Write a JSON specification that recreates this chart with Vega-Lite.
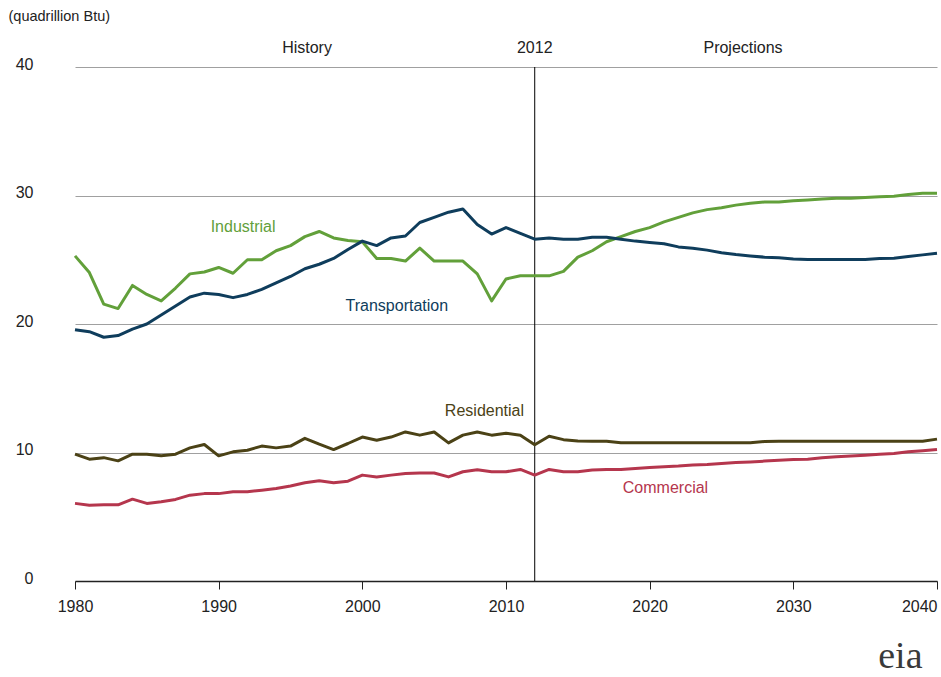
{
  "$schema": "https://vega.github.io/schema/vega-lite/v6.json",
  "width": 862,
  "height": 514,
  "autosize": "none",
  "padding": {"left": 75, "top": 67, "right": 4, "bottom": 96},
  "background": "white",
  "config": {
    "view": {"stroke": null},
    "font": "Liberation Sans",
    "text": {"font": "Liberation Sans"}
  },
  "datasets": {
    "series": [
      {"sector": "Industrial", "year": 1980, "value": 25.3},
      {"sector": "Industrial", "year": 1981, "value": 24.0},
      {"sector": "Industrial", "year": 1982, "value": 21.55},
      {"sector": "Industrial", "year": 1983, "value": 21.2},
      {"sector": "Industrial", "year": 1984, "value": 23.0},
      {"sector": "Industrial", "year": 1985, "value": 22.3},
      {"sector": "Industrial", "year": 1986, "value": 21.8},
      {"sector": "Industrial", "year": 1987, "value": 22.8},
      {"sector": "Industrial", "year": 1988, "value": 23.9},
      {"sector": "Industrial", "year": 1989, "value": 24.05},
      {"sector": "Industrial", "year": 1990, "value": 24.4},
      {"sector": "Industrial", "year": 1991, "value": 23.95},
      {"sector": "Industrial", "year": 1992, "value": 25.0},
      {"sector": "Industrial", "year": 1993, "value": 25.0},
      {"sector": "Industrial", "year": 1994, "value": 25.7},
      {"sector": "Industrial", "year": 1995, "value": 26.1},
      {"sector": "Industrial", "year": 1996, "value": 26.8},
      {"sector": "Industrial", "year": 1997, "value": 27.2},
      {"sector": "Industrial", "year": 1998, "value": 26.7},
      {"sector": "Industrial", "year": 1999, "value": 26.5},
      {"sector": "Industrial", "year": 2000, "value": 26.4},
      {"sector": "Industrial", "year": 2001, "value": 25.1},
      {"sector": "Industrial", "year": 2002, "value": 25.1},
      {"sector": "Industrial", "year": 2003, "value": 24.9},
      {"sector": "Industrial", "year": 2004, "value": 25.9},
      {"sector": "Industrial", "year": 2005, "value": 24.9},
      {"sector": "Industrial", "year": 2006, "value": 24.9},
      {"sector": "Industrial", "year": 2007, "value": 24.9},
      {"sector": "Industrial", "year": 2008, "value": 23.9},
      {"sector": "Industrial", "year": 2009, "value": 21.8},
      {"sector": "Industrial", "year": 2010, "value": 23.5},
      {"sector": "Industrial", "year": 2011, "value": 23.75},
      {"sector": "Industrial", "year": 2012, "value": 23.75},
      {"sector": "Industrial", "year": 2013, "value": 23.75},
      {"sector": "Industrial", "year": 2014, "value": 24.1},
      {"sector": "Industrial", "year": 2015, "value": 25.2},
      {"sector": "Industrial", "year": 2016, "value": 25.7},
      {"sector": "Industrial", "year": 2017, "value": 26.4},
      {"sector": "Industrial", "year": 2018, "value": 26.8},
      {"sector": "Industrial", "year": 2019, "value": 27.2},
      {"sector": "Industrial", "year": 2020, "value": 27.5},
      {"sector": "Industrial", "year": 2021, "value": 27.95},
      {"sector": "Industrial", "year": 2022, "value": 28.3},
      {"sector": "Industrial", "year": 2023, "value": 28.65},
      {"sector": "Industrial", "year": 2024, "value": 28.9},
      {"sector": "Industrial", "year": 2025, "value": 29.05},
      {"sector": "Industrial", "year": 2026, "value": 29.25},
      {"sector": "Industrial", "year": 2027, "value": 29.4},
      {"sector": "Industrial", "year": 2028, "value": 29.5},
      {"sector": "Industrial", "year": 2029, "value": 29.5},
      {"sector": "Industrial", "year": 2030, "value": 29.6},
      {"sector": "Industrial", "year": 2031, "value": 29.65},
      {"sector": "Industrial", "year": 2032, "value": 29.72},
      {"sector": "Industrial", "year": 2033, "value": 29.78},
      {"sector": "Industrial", "year": 2034, "value": 29.78},
      {"sector": "Industrial", "year": 2035, "value": 29.85},
      {"sector": "Industrial", "year": 2036, "value": 29.9},
      {"sector": "Industrial", "year": 2037, "value": 29.95},
      {"sector": "Industrial", "year": 2038, "value": 30.08},
      {"sector": "Industrial", "year": 2039, "value": 30.18},
      {"sector": "Industrial", "year": 2040, "value": 30.18},
      {"sector": "Transportation", "year": 1980, "value": 19.56},
      {"sector": "Transportation", "year": 1981, "value": 19.4},
      {"sector": "Transportation", "year": 1982, "value": 18.97},
      {"sector": "Transportation", "year": 1983, "value": 19.1},
      {"sector": "Transportation", "year": 1984, "value": 19.6},
      {"sector": "Transportation", "year": 1985, "value": 20.0},
      {"sector": "Transportation", "year": 1986, "value": 20.7},
      {"sector": "Transportation", "year": 1987, "value": 21.4},
      {"sector": "Transportation", "year": 1988, "value": 22.1},
      {"sector": "Transportation", "year": 1989, "value": 22.4},
      {"sector": "Transportation", "year": 1990, "value": 22.3},
      {"sector": "Transportation", "year": 1991, "value": 22.05},
      {"sector": "Transportation", "year": 1992, "value": 22.3},
      {"sector": "Transportation", "year": 1993, "value": 22.7},
      {"sector": "Transportation", "year": 1994, "value": 23.2},
      {"sector": "Transportation", "year": 1995, "value": 23.7},
      {"sector": "Transportation", "year": 1996, "value": 24.3},
      {"sector": "Transportation", "year": 1997, "value": 24.65},
      {"sector": "Transportation", "year": 1998, "value": 25.1},
      {"sector": "Transportation", "year": 1999, "value": 25.8},
      {"sector": "Transportation", "year": 2000, "value": 26.45},
      {"sector": "Transportation", "year": 2001, "value": 26.1},
      {"sector": "Transportation", "year": 2002, "value": 26.7},
      {"sector": "Transportation", "year": 2003, "value": 26.85},
      {"sector": "Transportation", "year": 2004, "value": 27.9},
      {"sector": "Transportation", "year": 2005, "value": 28.3},
      {"sector": "Transportation", "year": 2006, "value": 28.7},
      {"sector": "Transportation", "year": 2007, "value": 28.95},
      {"sector": "Transportation", "year": 2008, "value": 27.75},
      {"sector": "Transportation", "year": 2009, "value": 27.0},
      {"sector": "Transportation", "year": 2010, "value": 27.5},
      {"sector": "Transportation", "year": 2011, "value": 27.05},
      {"sector": "Transportation", "year": 2012, "value": 26.6},
      {"sector": "Transportation", "year": 2013, "value": 26.7},
      {"sector": "Transportation", "year": 2014, "value": 26.6},
      {"sector": "Transportation", "year": 2015, "value": 26.6},
      {"sector": "Transportation", "year": 2016, "value": 26.75},
      {"sector": "Transportation", "year": 2017, "value": 26.75},
      {"sector": "Transportation", "year": 2018, "value": 26.6},
      {"sector": "Transportation", "year": 2019, "value": 26.45},
      {"sector": "Transportation", "year": 2020, "value": 26.35},
      {"sector": "Transportation", "year": 2021, "value": 26.25},
      {"sector": "Transportation", "year": 2022, "value": 26.0},
      {"sector": "Transportation", "year": 2023, "value": 25.9},
      {"sector": "Transportation", "year": 2024, "value": 25.75},
      {"sector": "Transportation", "year": 2025, "value": 25.55},
      {"sector": "Transportation", "year": 2026, "value": 25.4},
      {"sector": "Transportation", "year": 2027, "value": 25.3},
      {"sector": "Transportation", "year": 2028, "value": 25.2},
      {"sector": "Transportation", "year": 2029, "value": 25.15},
      {"sector": "Transportation", "year": 2030, "value": 25.05},
      {"sector": "Transportation", "year": 2031, "value": 25.02},
      {"sector": "Transportation", "year": 2032, "value": 25.02},
      {"sector": "Transportation", "year": 2033, "value": 25.02},
      {"sector": "Transportation", "year": 2034, "value": 25.02},
      {"sector": "Transportation", "year": 2035, "value": 25.02},
      {"sector": "Transportation", "year": 2036, "value": 25.1},
      {"sector": "Transportation", "year": 2037, "value": 25.12},
      {"sector": "Transportation", "year": 2038, "value": 25.25},
      {"sector": "Transportation", "year": 2039, "value": 25.38},
      {"sector": "Transportation", "year": 2040, "value": 25.5},
      {"sector": "Residential", "year": 1980, "value": 9.87},
      {"sector": "Residential", "year": 1981, "value": 9.48},
      {"sector": "Residential", "year": 1982, "value": 9.6},
      {"sector": "Residential", "year": 1983, "value": 9.35},
      {"sector": "Residential", "year": 1984, "value": 9.87},
      {"sector": "Residential", "year": 1985, "value": 9.87},
      {"sector": "Residential", "year": 1986, "value": 9.74},
      {"sector": "Residential", "year": 1987, "value": 9.87},
      {"sector": "Residential", "year": 1988, "value": 10.36},
      {"sector": "Residential", "year": 1989, "value": 10.62},
      {"sector": "Residential", "year": 1990, "value": 9.74},
      {"sector": "Residential", "year": 1991, "value": 10.05},
      {"sector": "Residential", "year": 1992, "value": 10.18},
      {"sector": "Residential", "year": 1993, "value": 10.5},
      {"sector": "Residential", "year": 1994, "value": 10.36},
      {"sector": "Residential", "year": 1995, "value": 10.5},
      {"sector": "Residential", "year": 1996, "value": 11.1},
      {"sector": "Residential", "year": 1997, "value": 10.65},
      {"sector": "Residential", "year": 1998, "value": 10.23},
      {"sector": "Residential", "year": 1999, "value": 10.7},
      {"sector": "Residential", "year": 2000, "value": 11.2},
      {"sector": "Residential", "year": 2001, "value": 10.96},
      {"sector": "Residential", "year": 2002, "value": 11.2},
      {"sector": "Residential", "year": 2003, "value": 11.6},
      {"sector": "Residential", "year": 2004, "value": 11.35},
      {"sector": "Residential", "year": 2005, "value": 11.6},
      {"sector": "Residential", "year": 2006, "value": 10.75},
      {"sector": "Residential", "year": 2007, "value": 11.35},
      {"sector": "Residential", "year": 2008, "value": 11.6},
      {"sector": "Residential", "year": 2009, "value": 11.35},
      {"sector": "Residential", "year": 2010, "value": 11.5},
      {"sector": "Residential", "year": 2011, "value": 11.35},
      {"sector": "Residential", "year": 2012, "value": 10.6},
      {"sector": "Residential", "year": 2013, "value": 11.27},
      {"sector": "Residential", "year": 2014, "value": 11.0},
      {"sector": "Residential", "year": 2015, "value": 10.9},
      {"sector": "Residential", "year": 2016, "value": 10.88},
      {"sector": "Residential", "year": 2017, "value": 10.88},
      {"sector": "Residential", "year": 2018, "value": 10.75},
      {"sector": "Residential", "year": 2019, "value": 10.75},
      {"sector": "Residential", "year": 2020, "value": 10.75},
      {"sector": "Residential", "year": 2021, "value": 10.75},
      {"sector": "Residential", "year": 2022, "value": 10.75},
      {"sector": "Residential", "year": 2023, "value": 10.75},
      {"sector": "Residential", "year": 2024, "value": 10.75},
      {"sector": "Residential", "year": 2025, "value": 10.75},
      {"sector": "Residential", "year": 2026, "value": 10.75},
      {"sector": "Residential", "year": 2027, "value": 10.75},
      {"sector": "Residential", "year": 2028, "value": 10.86},
      {"sector": "Residential", "year": 2029, "value": 10.88},
      {"sector": "Residential", "year": 2030, "value": 10.88},
      {"sector": "Residential", "year": 2031, "value": 10.88},
      {"sector": "Residential", "year": 2032, "value": 10.88},
      {"sector": "Residential", "year": 2033, "value": 10.88},
      {"sector": "Residential", "year": 2034, "value": 10.88},
      {"sector": "Residential", "year": 2035, "value": 10.88},
      {"sector": "Residential", "year": 2036, "value": 10.88},
      {"sector": "Residential", "year": 2037, "value": 10.88},
      {"sector": "Residential", "year": 2038, "value": 10.88},
      {"sector": "Residential", "year": 2039, "value": 10.88},
      {"sector": "Residential", "year": 2040, "value": 11.04},
      {"sector": "Commercial", "year": 1980, "value": 6.04},
      {"sector": "Commercial", "year": 1981, "value": 5.9},
      {"sector": "Commercial", "year": 1982, "value": 5.93},
      {"sector": "Commercial", "year": 1983, "value": 5.93},
      {"sector": "Commercial", "year": 1984, "value": 6.37},
      {"sector": "Commercial", "year": 1985, "value": 6.04},
      {"sector": "Commercial", "year": 1986, "value": 6.17},
      {"sector": "Commercial", "year": 1987, "value": 6.35},
      {"sector": "Commercial", "year": 1988, "value": 6.68},
      {"sector": "Commercial", "year": 1989, "value": 6.8},
      {"sector": "Commercial", "year": 1990, "value": 6.8},
      {"sector": "Commercial", "year": 1991, "value": 6.94},
      {"sector": "Commercial", "year": 1992, "value": 6.94},
      {"sector": "Commercial", "year": 1993, "value": 7.07},
      {"sector": "Commercial", "year": 1994, "value": 7.2},
      {"sector": "Commercial", "year": 1995, "value": 7.4},
      {"sector": "Commercial", "year": 1996, "value": 7.64},
      {"sector": "Commercial", "year": 1997, "value": 7.8},
      {"sector": "Commercial", "year": 1998, "value": 7.64},
      {"sector": "Commercial", "year": 1999, "value": 7.77},
      {"sector": "Commercial", "year": 2000, "value": 8.24},
      {"sector": "Commercial", "year": 2001, "value": 8.1},
      {"sector": "Commercial", "year": 2002, "value": 8.24},
      {"sector": "Commercial", "year": 2003, "value": 8.37},
      {"sector": "Commercial", "year": 2004, "value": 8.4},
      {"sector": "Commercial", "year": 2005, "value": 8.4},
      {"sector": "Commercial", "year": 2006, "value": 8.1},
      {"sector": "Commercial", "year": 2007, "value": 8.5},
      {"sector": "Commercial", "year": 2008, "value": 8.65},
      {"sector": "Commercial", "year": 2009, "value": 8.5},
      {"sector": "Commercial", "year": 2010, "value": 8.5},
      {"sector": "Commercial", "year": 2011, "value": 8.68},
      {"sector": "Commercial", "year": 2012, "value": 8.24},
      {"sector": "Commercial", "year": 2013, "value": 8.68},
      {"sector": "Commercial", "year": 2014, "value": 8.5},
      {"sector": "Commercial", "year": 2015, "value": 8.5},
      {"sector": "Commercial", "year": 2016, "value": 8.63},
      {"sector": "Commercial", "year": 2017, "value": 8.68},
      {"sector": "Commercial", "year": 2018, "value": 8.68},
      {"sector": "Commercial", "year": 2019, "value": 8.76},
      {"sector": "Commercial", "year": 2020, "value": 8.83},
      {"sector": "Commercial", "year": 2021, "value": 8.89},
      {"sector": "Commercial", "year": 2022, "value": 8.94},
      {"sector": "Commercial", "year": 2023, "value": 9.02},
      {"sector": "Commercial", "year": 2024, "value": 9.07},
      {"sector": "Commercial", "year": 2025, "value": 9.15},
      {"sector": "Commercial", "year": 2026, "value": 9.22},
      {"sector": "Commercial", "year": 2027, "value": 9.27},
      {"sector": "Commercial", "year": 2028, "value": 9.33},
      {"sector": "Commercial", "year": 2029, "value": 9.4},
      {"sector": "Commercial", "year": 2030, "value": 9.46},
      {"sector": "Commercial", "year": 2031, "value": 9.48},
      {"sector": "Commercial", "year": 2032, "value": 9.59},
      {"sector": "Commercial", "year": 2033, "value": 9.66},
      {"sector": "Commercial", "year": 2034, "value": 9.72},
      {"sector": "Commercial", "year": 2035, "value": 9.79},
      {"sector": "Commercial", "year": 2036, "value": 9.87},
      {"sector": "Commercial", "year": 2037, "value": 9.92},
      {"sector": "Commercial", "year": 2038, "value": 10.05},
      {"sector": "Commercial", "year": 2039, "value": 10.13},
      {"sector": "Commercial", "year": 2040, "value": 10.23}
    ],
    "seriesLabels": [
      {"sector": "Industrial", "year": 1991.7, "value": 27.55},
      {"sector": "Transportation", "year": 2002.4, "value": 21.4},
      {"sector": "Residential", "year": 2008.5, "value": 13.25},
      {"sector": "Commercial", "year": 2021.1, "value": 7.25}
    ],
    "headers": [
      {"label": "History", "year": 1996.15, "value": 41.5},
      {"label": "2012", "year": 2012, "value": 41.5},
      {"label": "Projections", "year": 2026.5, "value": 41.5}
    ],
    "divider": [
      {"year": 2012}
    ],
    "logo": [
      {"label": "eia", "year": 2037.45, "value": -5.95}
    ]
  },
  "layer": [
    {
      "data": {"name": "divider"},
      "mark": {"type": "rule", "color": "#000000", "strokeWidth": 1},
      "encoding": {
        "x": {"field": "year", "type": "quantitative", "scale": {"domain": [1980, 2040], "nice": false, "zero": false}}
      }
    },
    {
      "data": {"name": "series"},
      "mark": {"type": "line", "strokeWidth": 3, "strokeJoin": "round", "strokeCap": "butt", "clip": false},
      "encoding": {
        "x": {
          "field": "year", "type": "quantitative",
          "scale": {"domain": [1980, 2040], "nice": false, "zero": false},
          "axis": {
            "title": null,
            "values": [1980, 1990, 2000, 2010, 2020, 2030, 2040],
            "format": "d",
            "grid": false,
            "domainColor": "#222222",
            "domainWidth": 1.5,
            "tickColor": "#222222",
            "tickSize": 8,
            "labelFontSize": 16,
            "labelColor": "#222222",
            "labelPadding": 9,
            "labelFlush": false,
            "labelAlign": {"condition": {"test": "datum.value == 2040", "value": "right"}, "value": "center"}
          }
        },
        "y": {
          "field": "value", "type": "quantitative",
          "scale": {"domain": [0, 40], "nice": false},
          "axis": {
            "title": "(quadrillion  Btu)",
            "titleAngle": 0,
            "titleAlign": "left",
            "titleBaseline": "middle",
            "titleX": -67,
            "titleY": -51,
            "titleFontSize": 14.5,
            "titleFontWeight": "normal",
            "titleColor": "#222222",
            "values": [0, 10, 20, 30, 40],
            "grid": true,
            "gridColor": "#a0a0a0",
            "gridWidth": 1,
            "domain": false,
            "ticks": false,
            "tickSize": 0,
            "labelFontSize": 16,
            "labelColor": "#222222",
            "labelPadding": 42,
            "labelAlign": "right",
            "labelBaseline": "bottom",
            "labelOffset": 5
          }
        },
        "color": {
          "field": "sector", "type": "nominal",
          "scale": {"domain": ["Industrial", "Transportation", "Residential", "Commercial"], "range": ["#62a03a", "#0f3d5c", "#4b4216", "#b5364d"]},
          "legend": null
        },
        "detail": {"field": "sector"}
      }
    },
    {
      "data": {"name": "seriesLabels"},
      "mark": {"type": "text", "fontSize": 16, "align": "center", "baseline": "middle"},
      "encoding": {
        "x": {"field": "year", "type": "quantitative"},
        "y": {"field": "value", "type": "quantitative"},
        "text": {"field": "sector"},
        "color": {"field": "sector", "type": "nominal", "scale": {"domain": ["Industrial", "Transportation", "Residential", "Commercial"], "range": ["#62a03a", "#0f3d5c", "#4b4216", "#b5364d"]}, "legend": null}
      }
    },
    {
      "data": {"name": "headers"},
      "mark": {"type": "text", "fontSize": 16, "align": "center", "baseline": "middle", "color": "#222222", "clip": false},
      "encoding": {
        "x": {"field": "year", "type": "quantitative"},
        "y": {"field": "value", "type": "quantitative"},
        "text": {"field": "label"}
      }
    },
    {
      "data": {"name": "logo"},
      "mark": {"type": "text", "fontSize": 38, "font": "Liberation Serif", "align": "center", "baseline": "middle", "color": "#3a3a3a", "clip": false},
      "encoding": {
        "x": {"field": "year", "type": "quantitative"},
        "y": {"field": "value", "type": "quantitative"},
        "text": {"field": "label"}
      }
    }
  ]
}
